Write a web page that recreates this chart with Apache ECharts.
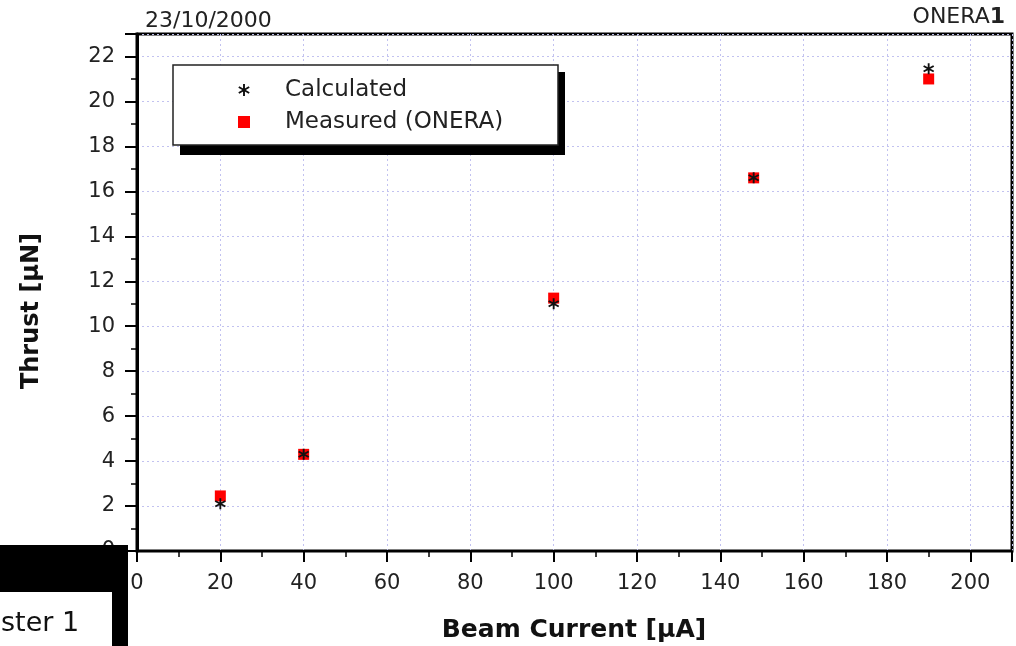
<!DOCTYPE html>
<html>
<head>
<meta charset="utf-8">
<script src="https://cdn.jsdelivr.net/npm/echarts@6/dist/echarts.min.js"></script>
<style>
  html, body { margin: 0; padding: 0; background: #fff; }
  #chart { width: 1016px; height: 646px; }
</style>
</head>
<body>
<div id="chart"></div>
<script>
// ---- data ----
var beamCurrent = [20, 40, 100, 148, 190];            // µA
var calculated = [2.1, 4.3, 11.0, 16.6, 21.45];        // µN
var measured   = [2.45, 4.3, 11.25, 16.6, 21.0];       // µN
var seriesNames = ['Calculated', 'Measured (ONERA)'];
var dateText = '23/10/2000';
var tagText = 'ONERA';
var tagNum = '1';
var xTitle = 'Beam Current [µA]';
var yTitle = 'Thrust [µN]';
var cornerText = 'ster 1';

function pairs(xs, ys) {
  return xs.map(function (x, i) { return [x, ys[i]]; });
}

var starPath = 'path://M-0.8,-5 L0.8,-5 L0.8,5 L-0.8,5 Z ' +
  'M-4.73,-1.81 L-3.93,-3.19 L4.73,1.81 L3.93,3.19 Z ' +
  'M-3.93,3.19 L-4.73,1.81 L3.93,-3.19 L4.73,-1.81 Z';

var FONT = 'DejaVu Sans';
var chart = echarts.init(document.getElementById('chart'), null, { renderer: 'canvas' });

chart.setOption({
  animation: false,
  backgroundColor: '#ffffff',
  grid: {
    left: 137, right: 4, top: 34, bottom: 95,
    show: true, borderColor: '#000', borderWidth: 3, backgroundColor: 'transparent'
  },
  legend: {
    orient: 'vertical',
    left: 173, top: 65,
    data: [seriesNames[0], seriesNames[1]],
    itemWidth: 12, itemHeight: 12,
    itemGap: 6,
    padding: [12, 10, 10, 65],
    backgroundColor: 'transparent',
    textStyle: { fontFamily: FONT, fontSize: 23, color: '#222', lineHeight: 26, padding: [0, 0, 0, 30] }
  },
  xAxis: {
    type: 'value', min: 0, max: 210, interval: 20,
    axisLine: { show: true, onZero: false, lineStyle: { color: '#000', width: 2 } },
    axisTick: { show: true, length: 11, lineStyle: { color: '#000', width: 2 } },
    minorTick: { show: true, splitNumber: 2, length: 6, lineStyle: { color: '#000', width: 1.5 } },
    axisLabel: { showMaxLabel: false, margin: 22, fontFamily: FONT, fontSize: 21, color: '#222' },
    splitLine: { show: true, lineStyle: { color: '#c2c2f0', width: 1, type: [2, 3] } }
  },
  yAxis: {
    type: 'value', min: 0, max: 23, interval: 2,
    axisLine: { show: true, onZero: false, lineStyle: { color: '#000', width: 3 } },
    axisTick: { show: true, length: 12, lineStyle: { color: '#000', width: 2 } },
    minorTick: { show: true, splitNumber: 2, length: 6, lineStyle: { color: '#000', width: 1.5 } },
    axisLabel: { showMaxLabel: false, margin: 22, fontFamily: FONT, fontSize: 21, color: '#222' },
    splitLine: { show: true, lineStyle: { color: '#c2c2f0', width: 1, type: [2, 3] } }
  },
  series: [
    {
      name: seriesNames[1], type: 'scatter', symbol: 'rect', symbolSize: 11,
      itemStyle: { color: '#ff0000', opacity: 1 }, z: 3,
      data: pairs(beamCurrent, measured)
    },
    {
      name: seriesNames[0], type: 'scatter', symbol: starPath, symbolSize: 11,
      itemStyle: { color: '#111', opacity: 1 }, z: 4,
      data: pairs(beamCurrent, calculated)
    }
  ],
  graphic: [
    // legend frame with its hard drop shadow
    { type: 'rect', z: 3, shape: { x: 180, y: 72, width: 385, height: 83 }, style: { fill: '#000' } },
    { type: 'rect', z: 3, shape: { x: 173, y: 65, width: 385, height: 80 }, style: { fill: '#fff', stroke: '#222', lineWidth: 1.5 } },
    { type: 'text', x: 145, y: 21, style: { text: dateText, font: '22px "DejaVu Sans"', fill: '#222', verticalAlign: 'middle' } },
    { type: 'text', x: 1005, y: 17, style: {
        text: tagText + '{b|' + tagNum + '}', font: '22px "DejaVu Sans"', fill: '#222', align: 'right', verticalAlign: 'middle',
        rich: { b: { fontFamily: FONT, fontSize: 22, fontWeight: 'bold', fill: '#222' } } } },
    { type: 'text', x: 32, y: 311, rotation: Math.PI / 2,
      style: { text: yTitle, font: 'bold 24px "DejaVu Sans"', fill: '#111', align: 'center', verticalAlign: 'middle' } },
    { type: 'text', x: 574, y: 630,
      style: { text: xTitle, font: 'bold 25px "DejaVu Sans"', fill: '#111', align: 'center', verticalAlign: 'middle' } },
    { type: 'rect', z: 100, shape: { x: 0, y: 545, width: 128, height: 101 }, style: { fill: '#000' } },
    { type: 'rect', z: 101, shape: { x: 0, y: 592, width: 112, height: 54 }, style: { fill: '#fff' } },
    { type: 'text', z: 102, x: 1, y: 624, style: { text: cornerText, font: '27px "DejaVu Sans"', fill: '#111', verticalAlign: 'middle' } }
  ]
});
</script>
</body>
</html>
